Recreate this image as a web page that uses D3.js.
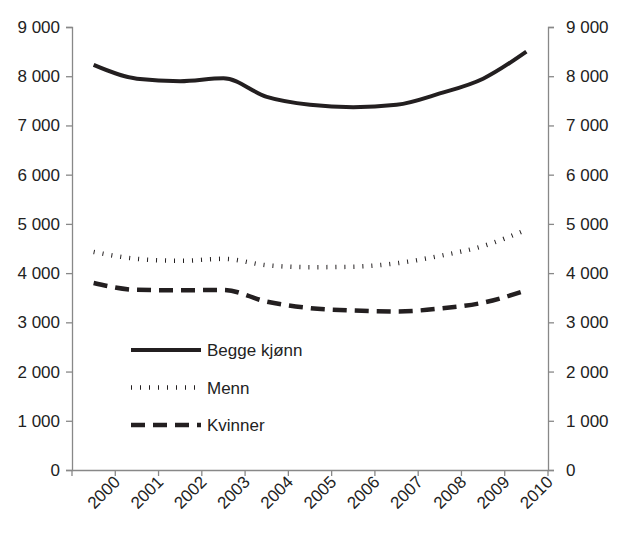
<!DOCTYPE html>
<html><head><meta charset="utf-8">
<script src="https://cdn.jsdelivr.net/npm/d3@7"></script>
<style>body{margin:0;background:#fff}</style>
</head><body><svg id="c" width="620" height="545"></svg>
<script>
const years = ['2000','2001','2002','2003','2004','2005','2006','2007','2008','2009','2010']
const begge = [8230, 7950, 7900, 7960, 7580, 7420, 7370, 7420, 7650, 7950, 8500]
const menn = [4430, 4290, 4250, 4290, 4160, 4120, 4130, 4200, 4350, 4550, 4880]
const kvinner = [3800, 3660, 3650, 3660, 3420, 3290, 3240, 3220, 3280, 3400, 3650]
const yTicks = [0, 1000, 2000, 3000, 4000, 5000, 6000, 7000, 8000, 9000]
const series = [
  { name: 'Begge kjønn', values: begge, dash: null, width: 4 },
  { name: 'Menn', values: menn, dash: '1,8', width: 4.5 },
  { name: 'Kvinner', values: kvinner, dash: '14,8', width: 4.5 }
]

const mLeft = 72, mRight = 548, mTop = 27, mBottom = 470
const svg = d3.select('#c')
const font = 'Liberation Sans, Arial, sans-serif'
const fmt = v => d3.format(',')(v).replace(',', ' ')

const x = d3.scaleBand().domain(years).range([mLeft, mRight])
const y = d3.scaleLinear().domain([0, 9000]).range([mBottom, mTop])

const axisStyle = g => {
  g.selectAll('path,line').attr('stroke', '#888').attr('stroke-width', 1.3)
  g.selectAll('text').attr('font-family', font).attr('font-size', 17).attr('fill', '#222')
}
svg.append('g').attr('transform', `translate(${mLeft},0)`)
  .call(d3.axisLeft(y).tickValues(yTicks).tickFormat(fmt).tickSizeOuter(0).tickSize(6).tickPadding(6))
  .call(axisStyle)
svg.append('g').attr('transform', `translate(${mRight},0)`)
  .call(d3.axisRight(y).tickValues(yTicks).tickFormat(fmt).tickSizeOuter(0).tickSize(6).tickPadding(12))
  .call(axisStyle)
const xa = svg.append('g').attr('transform', `translate(0,${mBottom})`)
  .call(d3.axisBottom(x).tickSize(0).tickPadding(10).tickSizeOuter(0))
  .call(axisStyle)
xa.selectAll('.tick text').attr('text-anchor', 'end').attr('dx', '0.6em').attr('dy', '1.1em')
  .attr('transform', 'rotate(-45)')
// category boundary ticks
svg.append('g').selectAll('line').data(d3.range(years.length + 1)).join('line')
  .attr('x1', i => mLeft + i * x.step()).attr('x2', i => mLeft + i * x.step())
  .attr('y1', mBottom).attr('y2', mBottom + 6).attr('stroke', '#888').attr('stroke-width', 1.3)

const line = d3.line().x((d, i) => x(years[i]) + x.bandwidth() / 2).y(d => y(d)).curve(d3.curveMonotoneX)
series.forEach(s => {
  svg.append('path').attr('d', line(s.values)).attr('fill', 'none').attr('stroke', '#231f20')
    .attr('stroke-width', s.width).attr('stroke-dasharray', s.dash)
})

// legend
series.forEach((s, i) => {
  const ly = 350 + i * 37.5
  svg.append('line').attr('x1', 131).attr('x2', 201).attr('y1', ly).attr('y2', ly)
    .attr('stroke', '#231f20').attr('stroke-width', s.width).attr('stroke-dasharray', s.dash)
  svg.append('text').attr('x', 207).attr('y', ly + 6).attr('font-family', font).attr('font-size', 17)
    .attr('fill', '#222').text(s.name)
})
</script></body></html>
